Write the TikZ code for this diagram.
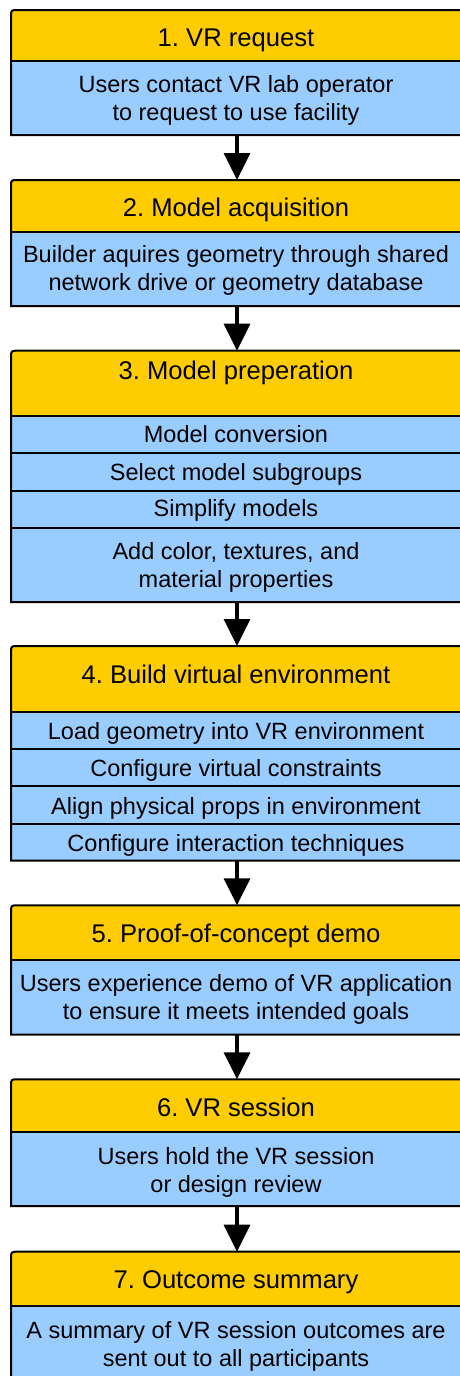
\documentclass[tikz,border=0pt]{standalone}
\usepackage{fontspec}
\setmainfont{Liberation Sans}
\usetikzlibrary{arrows.meta}
\frenchspacing

\definecolor{headgold}{HTML}{FFCC00}
\definecolor{bodyblue}{HTML}{99CCFF}

\tikzset{
  frame/.style={rectangle, minimum width=452pt, inner sep=0pt, outer sep=0pt, anchor=north west},
  border/.style={draw=black, line width=2pt},
  divider/.style={draw=black, line width=2pt},
  headtext/.style={anchor=base, inner sep=0pt, font=\fontsize{25.6}{28}\selectfont},
  bodytext/.style={anchor=base, inner sep=0pt, align=center, font=\fontsize{23.5}{28}\selectfont},
  flow/.style={line width=3.5pt, -{Triangle[width=26pt,length=27pt]}},
}

% #1 name, #2 top, #3 bottom of the header band, #4 bottom
\newcommand\stepframe[4]{%
  \node[frame, minimum height={#4-#2}] (#1) at (11,#2) {};
  \fill[bodyblue] (11,#4) -- (11,#2+7) .. controls (11,#2) .. (18,#2) -- (463,#2) -- (463,#4) -- cycle;
  \fill[headgold] (11,#3) -- (11,#2+7) .. controls (11,#2) .. (18,#2) -- (463,#2) -- (463,#3) -- cycle;
  \draw[divider] (11,#3) -- (463,#3);
  \draw[border] (11,#4) -- (11,#2+7) .. controls (11,#2) .. (18,#2) -- (463,#2) -- (463,#4) -- cycle;
}

\begin{document}
\begin{tikzpicture}[x=1pt, y=-1pt]
\useasboundingbox (0,0) rectangle (459,1376);

% 1
\stepframe{s1}{10}{61}{135}
\node[headtext] (h1) at (236,46.7) {1. VR request};
\node[bodytext] (b1) at (236,120.7) {Users contact VR lab operator\\to request to use facility};

% 2
\stepframe{s2}{180}{231.7}{306}
\node[headtext] (h2) at (236,216.7) {2. Model acquisition};
\node[bodytext] (b2) at (236,290.7) {Builder aquires geometry through shared\\network drive or geometry database};

% 3
\stepframe{s3}{350.7}{416}{602}
\draw[divider] (11,453) -- (463,453);
\draw[divider] (11,491) -- (463,491);
\draw[divider] (11,528) -- (463,528);
\node[headtext] (h3) at (236,379.3) {3. Model preperation};
\node[bodytext] (b3a) at (236,442.7) {Model conversion};
\node[bodytext] (b3b) at (236,480) {Select model subgroups};
\node[bodytext] (b3c) at (236,516.7) {Simplify models};
\node[bodytext] (b3d) at (236,587.7) {Add color, textures, and\\material properties};

% 4
\stepframe{s4}{646}{712}{860.7}
\draw[divider] (11,749) -- (463,749);
\draw[divider] (11,786.3) -- (463,786.3);
\draw[divider] (11,823.7) -- (463,823.7);
\node[headtext] (h4) at (236,683.3) {4. Build virtual environment};
\node[bodytext] (b4a) at (236,739.3) {Load geometry into VR environment};
\node[bodytext] (b4b) at (236,776.7) {Configure virtual constraints};
\node[bodytext] (b4c) at (236,814) {Align physical props in environment};
\node[bodytext] (b4d) at (236,851) {Configure interaction techniques};

% 5
\stepframe{s5}{905.3}{960.3}{1034.7}
\node[headtext] (h5) at (236,942.7) {5. Proof-of-concept demo};
\node[bodytext] (b5) at (236,1019.3) {Users experience demo of VR application\\to ensure it meets intended goals};

% 6
\stepframe{s6}{1079.3}{1132}{1206}
\node[headtext] (h6) at (236,1116.7) {6. VR session};
\node[bodytext] (b6) at (236,1192.7) {Users hold the VR session\\or design review};

% 7
\stepframe{s7}{1251.7}{1306}{1420}
\node[headtext] (h7) at (236,1288.3) {7. Outcome summary};
\node[bodytext] (b7) at (236,1366) {A summary of VR session outcomes are\\sent out to all participants};

% connectors between steps
\draw[flow] (s1.south) -- (s2.north);
\draw[flow] (s2.south) -- (s3.north);
\draw[flow] (s3.south) -- (s4.north);
\draw[flow] (s4.south) -- (s5.north);
\draw[flow] (s5.south) -- (s6.north);
\draw[flow] (s6.south) -- (s7.north);
\end{tikzpicture}
\end{document}
